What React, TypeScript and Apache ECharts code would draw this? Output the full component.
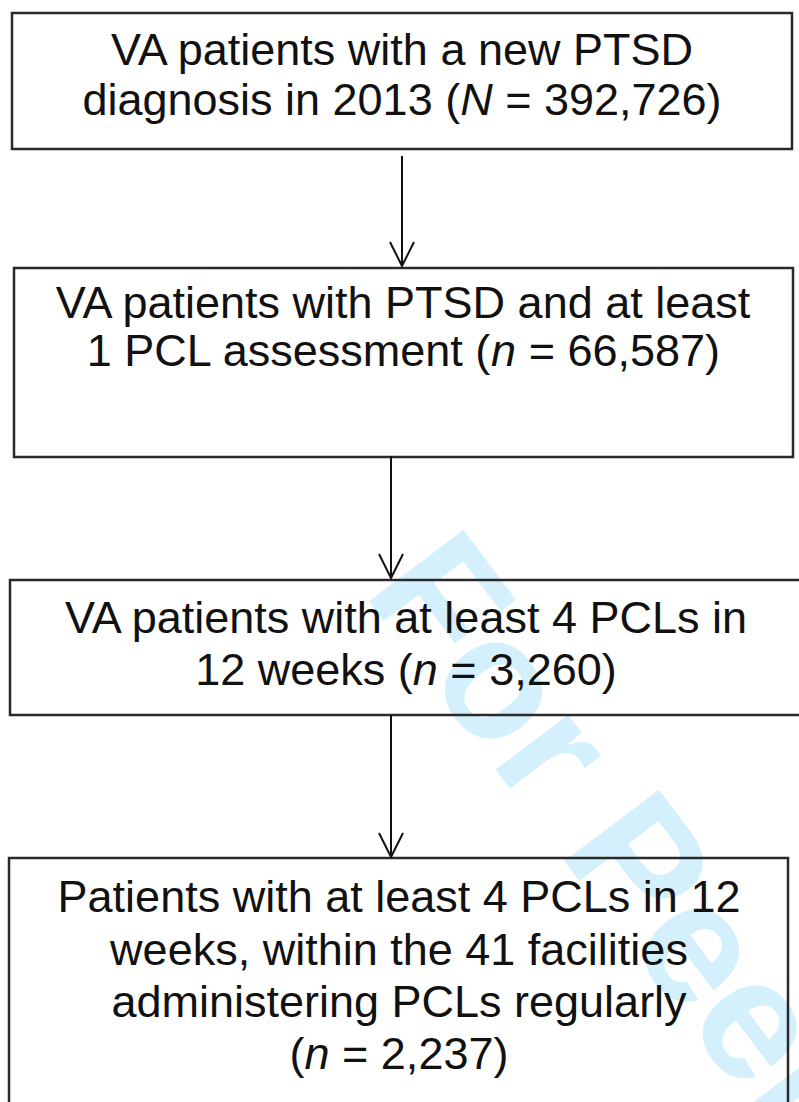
import React, { useEffect, useRef } from "react";
import * as echarts from "echarts";

// ---- data ----
const stepLines: string[][] = [
  ["VA patients with a new PTSD", "diagnosis in 2013"],
  ["VA patients with PTSD and at least", "1 PCL assessment"],
  ["VA patients with at least 4 PCLs in", "12 weeks"],
  ["Patients with at least 4 PCLs in 12", "weeks, within the 41 facilities", "administering PCLs regularly", ""],
];
const countSymbols = ["N", "n", "n", "n"];
const stepCounts = [392726, 66587, 3260, 2237];
const watermarkText = "For Peer Review";

// ---- layout ----
const W = 799;
const H = 1102;
const FONT = "'Liberation Sans', Arial, Helvetica, sans-serif";
const FS = 45;
const boxes = [
  { x: 12, y: 13, w: 780, h: 136, cx: 402, base: [65, 115] },
  { x: 14, y: 268, w: 779, h: 189, cx: 403, base: [318, 366] },
  { x: 10, y: 580, w: 800, h: 135, cx: 406, base: [633, 685] },
  { x: 9, y: 858, w: 779, h: 260, cx: 399, base: [912, 965, 1017, 1069] },
];
const arrows = [
  { x: 402, y1: 156, y2: 266 },
  { x: 391, y1: 456, y2: 578 },
  { x: 391, y1: 715, y2: 857 },
];

function fmt(n: number) {
  return n.toLocaleString("en-US");
}

export default function App() {
  const ref = useRef<HTMLDivElement>(null);
  useEffect(() => {
    if (!ref.current) return;
    const chart = echarts.init(ref.current, undefined, { renderer: "svg" });
    const elements: any[] = [];

    // watermark
    const rot = (-53 * Math.PI) / 180;
    elements.push({
      type: "text",
      x: 410,
      y: 556,
      rotation: rot,
      z: 0,
      style: {
        text: watermarkText,
        x: 0,
        y: 0,
        fill: "#d5f0fd",
        font: `bold 172px ${FONT}`,
        align: "left",
        verticalAlign: "middle",
      },
    });

    boxes.forEach((b, i) => {
      elements.push({
        type: "rect",
        z: 1,
        shape: { x: b.x, y: b.y, width: b.w, height: b.h },
        style: { fill: "none", stroke: "#2a2a2a", lineWidth: 2.5 },
      });
      const lines = stepLines[i].slice();
      const last = lines.length - 1;
      const prefix = lines[last] ? lines[last] + " " : "";
      lines[last] = `${prefix}({i|${countSymbols[i]}} = ${fmt(stepCounts[i])})`;
      lines.forEach((ln, j) => {
        elements.push({
          type: "text",
          z: 2,
          x: b.cx,
          y: b.base[j] - 0.3465 * FS,
          style: {
            text: ln,
            x: 0,
            y: 0,
            fill: "#111",
            fontSize: FS,
            fontFamily: FONT,
            lineHeight: FS,
            align: "center",
            verticalAlign: "middle",
            rich: {
              i: { fontStyle: "italic", fontSize: FS, fontFamily: FONT, fill: "#111", lineHeight: FS },
            },
          },
        });
      });
    });

    arrows.forEach((a) => {
      elements.push({
        type: "line",
        z: 2,
        shape: { x1: a.x, y1: a.y1, x2: a.x, y2: a.y2 },
        style: { stroke: "#111", lineWidth: 2 },
      });
      elements.push({
        type: "polyline",
        z: 2,
        shape: { points: [[a.x - 12, a.y2 - 24], [a.x, a.y2], [a.x + 12, a.y2 - 24]] },
        style: { stroke: "#111", lineWidth: 2, fill: "none" },
      });
    });

    chart.setOption({
      animation: false,
      backgroundColor: "#ffffff",
      graphic: { elements },
    });
    return () => chart.dispose();
  }, []);
  return (
    <div
      ref={ref}
      style={{ position: "fixed", left: 0, top: 0, width: W, height: H }}
    />
  );
}
